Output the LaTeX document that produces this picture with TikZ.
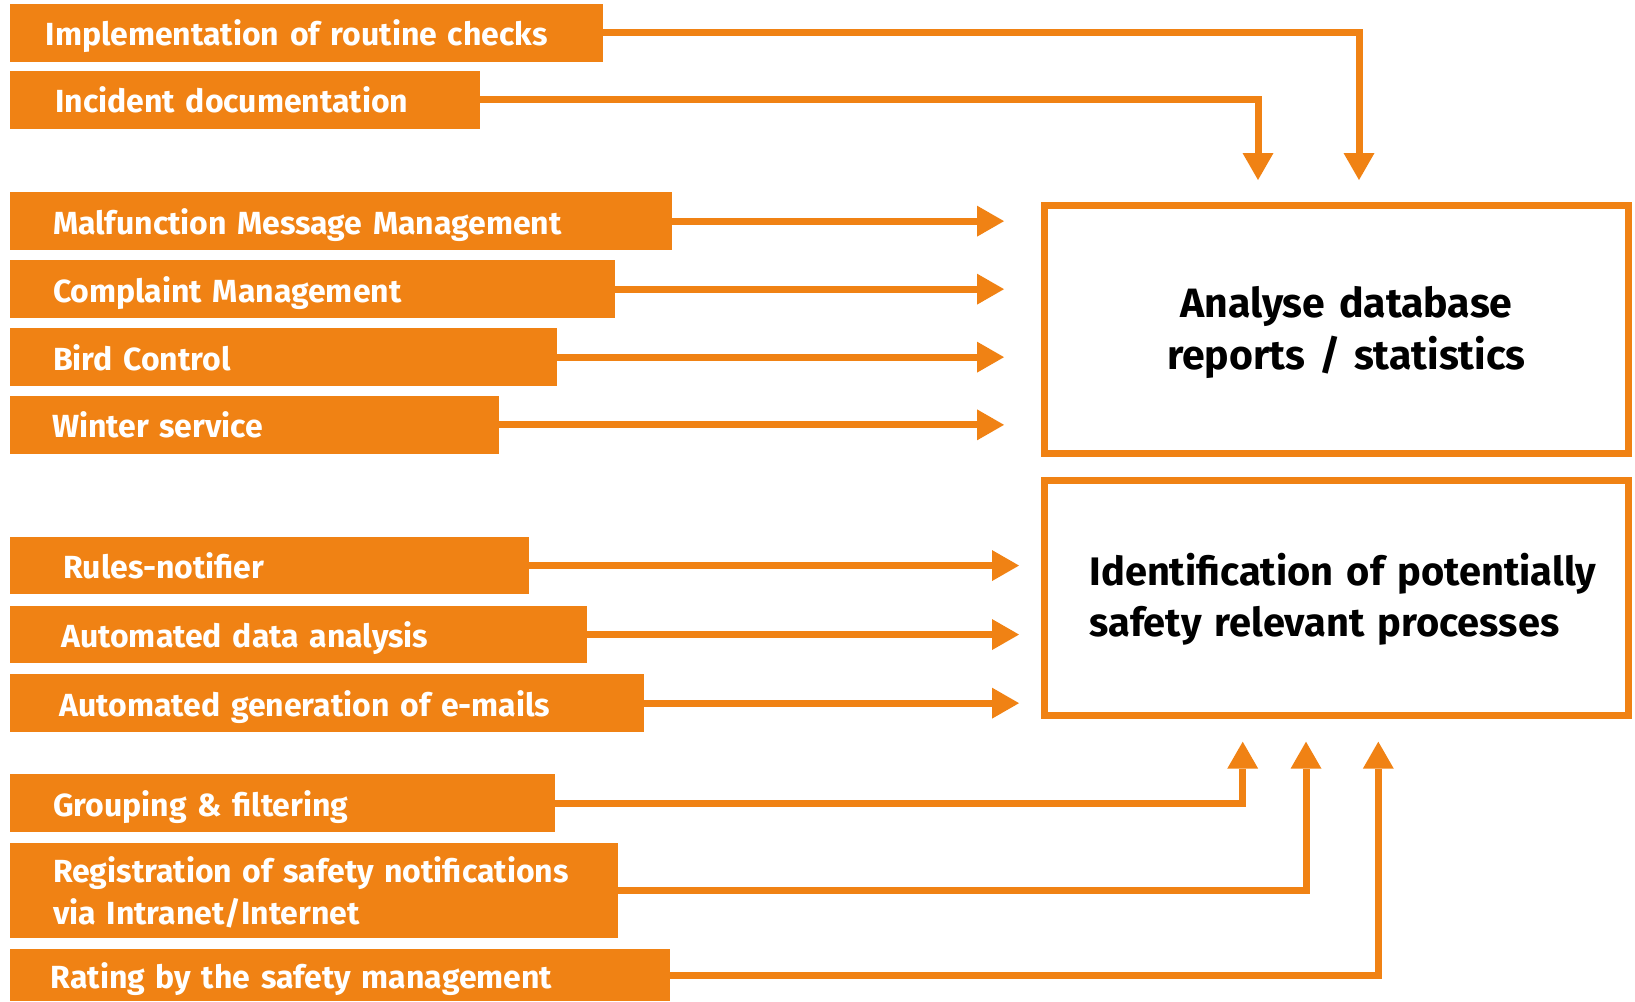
\documentclass[tikz,border=0pt]{standalone}
\usepackage{fontspec}
\setmainfont{Fira Sans}
\usetikzlibrary{arrows.meta}
\definecolor{org}{RGB}{240,130,20}
\begin{document}
\begin{tikzpicture}[x=1pt,y=-1pt,
  lbox/.style 2 args={anchor=north west, fill=org, text=white, inner ysep=0pt, outer sep=0pt,
     inner xsep=#2pt, text width={(#1-2*#2)*1pt}, align=left, minimum height=57.7pt,
     text height=26pt, text depth=0pt, font=\bfseries\fontsize{32}{41.7}\selectfont},
  rbox/.style={draw=org, line width=7pt, outer sep=3.5pt, inner ysep=0pt, minimum width=583.8pt,
     font=\bfseries\fontsize{41}{52}\selectfont, text height=28.2pt, text depth=52pt},
  arr/.style={draw=org, line width=7pt, -{Triangle[length=27pt,width=31pt,line width=0pt]}}
]
\useasboundingbox (0,0) rectangle (1635,1001);

% left boxes
\node[lbox={593.3}{35.7}] (b1) at (10,4) {Implementation of routine checks};
\node[lbox={470.3}{45.3}] (b2) at (10,71) {Incident documentation};
\node[lbox={662.3}{43}] (b3) at (10,192.3) {Malfunction Message Management};
\node[lbox={604.7}{43}] (b4) at (10,260.3) {Complaint Management};
\node[lbox={547}{43}] (b5) at (10,328.3) {Bird Control};
\node[lbox={489.3}{42}] (b6) at (10,396) {Winter service};
\node[lbox={518.7}{53}] (b7) at (10,536.7) {Rules-notifier};
\node[lbox={576.7}{51.3}] (b8) at (10,605.7) {Automated data analysis};
\node[lbox={634}{49.7}] (b9) at (10,674.3) {Automated generation of e-mails};
\node[lbox={545}{43}] (b10) at (10,774.3) {Grouping \& filtering};
\node[lbox={608.3}{43}, minimum height=95.6pt, text depth=41.7pt] (b11) at (10,842.7)
  {\mbox{Registration of safety notifications}\\via Intranet/Internet};
\node[lbox={660.3}{40.7}, minimum height=52pt] (b12) at (10,949) {Rating by the safety management};

% right boxes
\node[rbox, minimum height=248pt, inner xsep=20pt, text width=543.8pt, align=center] (A) at (1336.4,329.3)
  {\hspace*{20pt}Analyse database\\\hspace*{20pt}reports / statistics};
\node[rbox, minimum height=235pt, inner xsep=45pt, text width=493.8pt, align=left,
      font=\bfseries\fontsize{39.8}{51}\selectfont, text height=27.4pt, text depth=51pt] (B) at (1336.4,597.5)
  {\mbox{Identification of potentially}\\\mbox{safety relevant processes}};

% arrow targets
\coordinate (t1) at (1359,180);
\coordinate (t2) at (1258,180);
\coordinate (xa) at (1004,0);
\coordinate (xb) at (1019,0);
\coordinate (u1) at (1242.7,741.7);
\coordinate (u2) at (1306,741.7);
\coordinate (u3) at (1378.3,741.7);

% connectors
\draw[arr] (b1.east) -| (t1);
\draw[arr] (b2.east) -| (t2);
\foreach \n in {b3,b4,b5,b6} \draw[arr] (\n.east) -- (\n.east -| xa);
\foreach \n in {b7,b8,b9} \draw[arr] (\n.east) -- (\n.east -| xb);
\draw[arr] (b10.east) -| (u1);
\draw[arr] (b11.east) -| (u2);
\draw[arr] (b12.east) -| (u3);
\end{tikzpicture}
\end{document}
